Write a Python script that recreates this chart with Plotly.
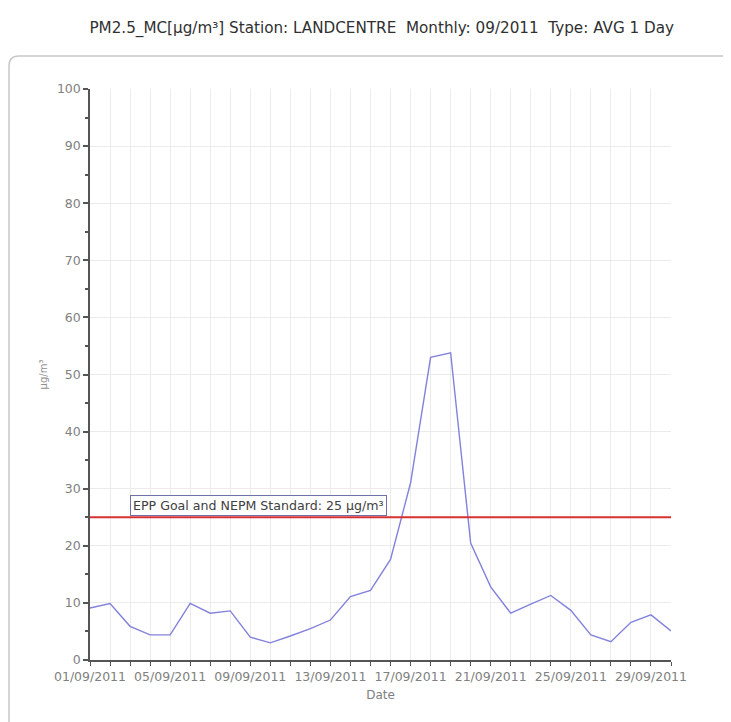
import plotly.graph_objects as go

dates = [f"2011-09-{d:02d}" for d in range(1, 31)]
pm25 = [9.1, 9.9, 5.9, 4.4, 4.4, 9.9, 8.2, 8.6, 4.0, 3.0,
        4.2, 5.5, 7.0, 11.1, 12.2, 17.6, 31.0, 53.0, 53.8, 20.5,
        12.8, 8.2, 9.8, 11.3, 8.7, 4.4, 3.2, 6.6, 7.9, 5.1]
standard_value = 25
standard_label = "EPP Goal and NEPM Standard: 25 µg/m³"
tick_dates = dates
tick_labels = [f"{d[8:10]}/09/2011" if (int(d[8:10]) - 1) % 4 == 0 else "" for d in dates]
title_text = "PM2.5_MC[µg/m³] Station: LANDCENTRE  Monthly: 09/2011  Type: AVG 1 Day"

OFF = 8  # default page body margin
W, H = 731 - OFF, 722 - OFF
L, R, T, B = 90 - OFF, 671 - OFF, 89 - OFF, 660 - OFF

def px(x):
    return (x - OFF - L) / (R - L)

def py(y):
    return (B - (y - OFF)) / (B - T)

FONT = "DejaVu Sans, Verdana, sans-serif"

fig = go.Figure()
fig.add_trace(go.Scatter(x=dates, y=pm25, mode="lines",
                         line=dict(color="#8282dc", width=1.4),
                         showlegend=False, hoverinfo="x+y"))

# rounded outer frame (page coordinates)
x0, y0, x1, y1, r = 9, 56, 760, 760, 10
path = (f"M {px(x0)},{py(y1)} L {px(x0)},{py(y0 + r)} "
        f"Q {px(x0)},{py(y0)} {px(x0 + r)},{py(y0)} L {px(x1)},{py(y0)}")
shapes = [
    dict(type="path", xref="paper", yref="paper", path=path,
         line=dict(color="#c8c8c8", width=1.5), layer="below"),
    dict(type="line", xref="paper", yref="y", x0=0, x1=1,
         y0=standard_value, y1=standard_value,
         line=dict(color="#d83030", width=2)),
]

fig.update_layout(
    template="none",
    width=W, height=H,
    margin=dict(l=L, r=W - R, t=T, b=H - B, pad=0),
    paper_bgcolor="white", plot_bgcolor="white",
    font=dict(family=FONT, color="#808080", size=12),
    title=dict(text=title_text, x=(371 - OFF) / W, xanchor="center", xref="paper",
               y=1 - (28 - OFF) / H, yanchor="middle",
               font=dict(size=15.2, color="#303030", family=FONT)),
    shapes=shapes,
    annotations=[dict(x="2011-09-03", y=standard_value, xref="x", yref="y",
                      xanchor="left", yanchor="bottom", yshift=1,
                      text=standard_label, showarrow=False,
                      font=dict(size=12.6, color="#404040", family=FONT),
                      bordercolor="#7070a8", borderwidth=1, borderpad=2,
                      bgcolor="white")],
)

fig.update_xaxes(
    range=[dates[0], dates[-1]],
    tickmode="array", tickvals=tick_dates, ticktext=tick_labels,
    ticks="outside", ticklen=4, tickcolor="#555", tickwidth=1,
    showline=True, linecolor="#555", linewidth=1.5,
    showgrid=True, gridcolor="#ebebeb", gridwidth=1,
    tickfont=dict(size=12.5, color="#808080", family=FONT),
    title=dict(text="Date", font=dict(size=12, color="#808080", family=FONT), standoff=8),
    zeroline=False,
)
fig.update_yaxes(
    range=[0, 100], dtick=10, tick0=0,
    ticks="outside", ticklen=5, tickcolor="#555", tickwidth=1.5,
    minor=dict(dtick=5, ticks="outside", ticklen=3, tickcolor="#555", showgrid=False),
    showline=True, linecolor="#555", linewidth=1.5,
    showgrid=True, gridcolor="#ebebeb", gridwidth=1,
    tickfont=dict(size=12.5, color="#808080", family=FONT),
    title=dict(text="µg/m³", font=dict(size=10, color="#909090", family=FONT), standoff=7),
    zeroline=False,
)

fig.write_html("out.html")
